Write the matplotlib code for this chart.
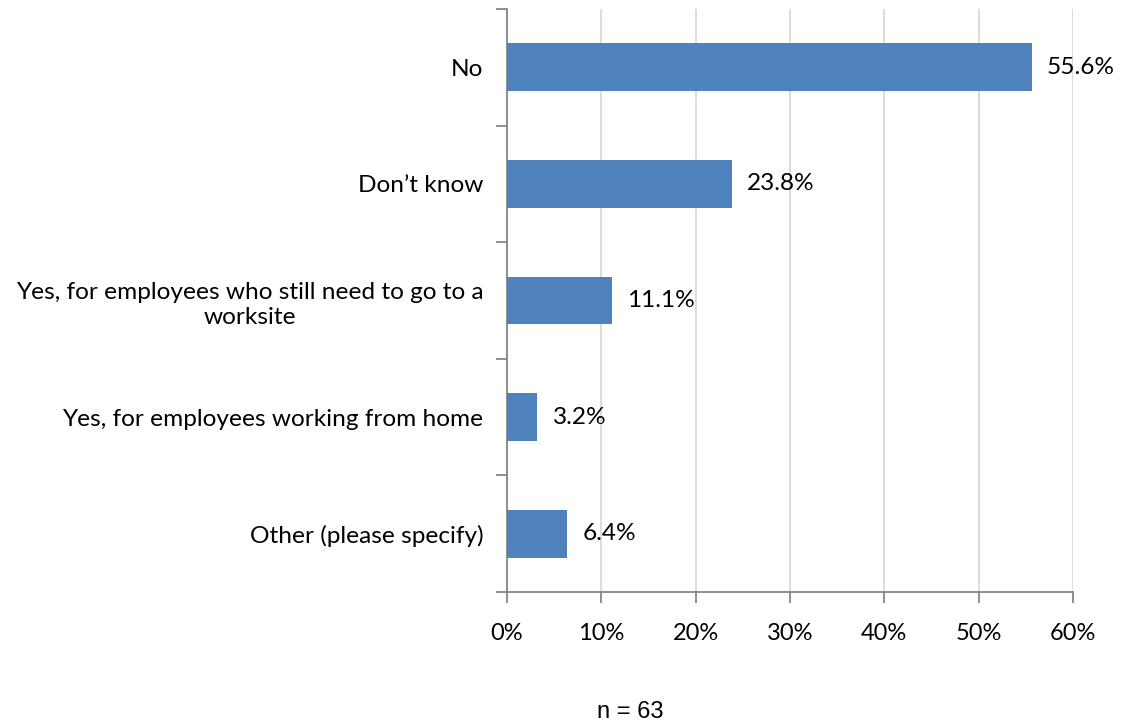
import matplotlib
matplotlib.use("Agg")
import matplotlib.pyplot as plt
from matplotlib.ticker import FuncFormatter, FixedLocator

categories = [
    "No",
    "Don\u2019t know",
    "Yes, for employees who still need to go to a\nworksite",
    "Yes, for employees working from home",
    "Other (please specify)",
]
values = [55.6, 23.8, 11.1, 3.2, 6.4]
x_ticks = [0, 10, 20, 30, 40, 50, 60]
note = "n = 63"

LABEL_FONT = "Lato"
FS = 17.6
BAR_COLOR = "#4F81BD"
AXIS_COLOR = "#868686"
GRID_COLOR = "#D9D9D9"

fig = plt.figure(figsize=(11.21, 7.25), dpi=100)
ax = fig.add_axes([0.4523, 0.1834, 0.5049, 0.8042])

n = len(categories)
ypos = list(range(n))
ax.barh(ypos, values, height=0.41, color=BAR_COLOR, zorder=3)

for y, v in zip(ypos, values):
    ax.annotate(f"{v:.1f}%", xy=(v, y), xytext=(11, 0), textcoords="offset points",
                ha="left", va="center", fontsize=FS, family=LABEL_FONT, color="#000000")

ax.set_xlim(0, 60)
ax.set_ylim(n - 0.5, -0.5)
ax.set_xticks(x_ticks)
ax.xaxis.set_major_formatter(FuncFormatter(lambda x, p: f"{x:.0f}%"))
ax.grid(axis="x", color=GRID_COLOR, linewidth=1.3, zorder=0)

# category labels centred on bars, tick marks at band boundaries
ax.set_yticks(ypos)
ax.set_yticklabels(categories, family=LABEL_FONT, fontsize=FS, ha="right",
                   multialignment="center", linespacing=1.25)
ax.yaxis.set_minor_locator(FixedLocator([i - 0.5 for i in range(n + 1)]))
ax.tick_params(axis="y", which="major", length=0, pad=17)
ax.tick_params(axis="y", which="minor", length=8, width=1.3, color=AXIS_COLOR, direction="out")
ax.tick_params(axis="x", length=8, width=1.3, color=AXIS_COLOR, direction="out", pad=14,
               labelsize=17)
for lbl in ax.get_xticklabels():
    lbl.set_family(LABEL_FONT)

for side in ("top", "right"):
    ax.spines[side].set_visible(False)
for side in ("left", "bottom"):
    ax.spines[side].set_color(AXIS_COLOR)
    ax.spines[side].set_linewidth(1.3)

fig.text(630 / 1121, 1 - 712 / 725, note, ha="center", va="center",
         family="Liberation Sans", fontsize=17)

fig.savefig("out.png", dpi=100)
